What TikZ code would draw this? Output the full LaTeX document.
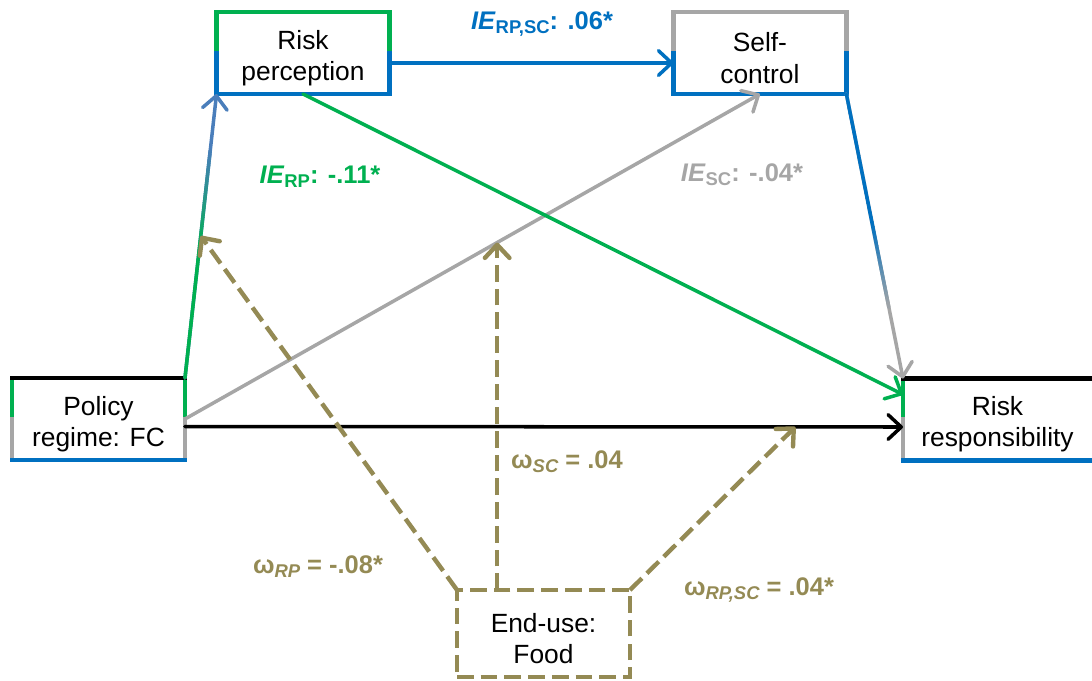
\documentclass[tikz,border=0pt]{standalone}
\usepackage{fontspec}
\setmainfont{Liberation Sans}
\usetikzlibrary{arrows.meta,positioning,calc}
\definecolor{rpgreen}{HTML}{00B050}
\definecolor{scblue}{HTML}{0070C0}
\definecolor{steelblue}{HTML}{4A7EBB}
\definecolor{midgray}{HTML}{A6A6A6}
\definecolor{olive}{HTML}{948A54}
\newcommand{\sbs}[1]{\raisebox{-0.35ex}{\fontsize{10.5}{10.5}\selectfont #1}}
\newcommand{\lift}{\rule{0pt}{16.5pt}}
% node, top, upper sides, lower sides, bottom
\newcommand{\boxrim}[5]{%
  \draw[rim,#3] (#1.north west) -- (#1.west);
  \draw[rim,#3] (#1.north east) -- (#1.east);
  \draw[rim,#4] (#1.west) -- (#1.south west);
  \draw[rim,#4] (#1.east) -- (#1.south east);
  \draw[rim,#2] (#1.north west) -- (#1.north east);
  \draw[rim,#5] (#1.south west) -- (#1.south east);}
\tikzset{
  varbox/.style={rectangle, align=center, minimum width=3.46cm, minimum height=1.64cm, inner sep=0pt, outer sep=0pt, font=\fontsize{15}{17.8}\selectfont},
  modbox/.style={varbox, draw=olive, line width=2.5pt, dash pattern=on 9.5pt off 4pt, minimum height=1.74cm},
  rim/.style={line width=2.6pt, line cap=rect},
  patharrow/.style={-{Straight Barb[length=7.5pt,width=14pt,round]}, line width=2pt, line cap=round},
  modarrow/.style={patharrow, olive, line width=2.5pt, dash pattern=on 9.5pt off 4pt, line cap=butt},
  coef/.style={anchor=base, font=\fontsize{14.5}{16}\selectfont\bfseries}
}

\begin{document}
\begin{tikzpicture}[x=0.02cm, y=-0.02cm]
\useasboundingbox (0,0) rectangle (1092,680);
\node[varbox] (policy) at (98.5,419) {\lift Policy\\regime: FC};
\node[varbox] (riskperc) at (303,53) {\lift Risk\\perception};
\node[varbox, right=5.68cm of riskperc] (selfctl) {\lift Self-\\control};
\node[varbox, minimum width=3.78cm] (riskresp) at (997.5,419.5) {\lift Risk\\responsibility};
\node[modbox] (enduse) at (543.5,633.5) {\lift End-use:\\Food};
\boxrim{policy}{black}{rpgreen}{midgray}{scblue}
\boxrim{riskperc}{rpgreen}{rpgreen}{scblue}{scblue}
\boxrim{selfctl}{midgray}{midgray}{scblue}{scblue}
\draw[rim,rpgreen] (riskresp.north west) -- (riskresp.west);
\draw[rim,midgray] (riskresp.west) -- (riskresp.south west);
\draw[rim,black] (riskresp.north west) -- (riskresp.north east);
\draw[rim,scblue] (riskresp.south west) -- (riskresp.south east);
% paths
\draw[patharrow, black] ([yshift=-0.15cm]policy.east) -- ([yshift=-0.15cm]riskresp.west);
\draw[patharrow, midgray] (policy.east) -- (selfctl.south);
\draw[patharrow, scblue] ([yshift=-0.2cm]riskperc.east) -- ([yshift=-0.2cm]riskperc.east -| selfctl.west);
\draw[patharrow, rpgreen] (riskperc.south) -- ([yshift=0.5cm]riskresp.west);
\draw[patharrow, steelblue] (policy.north east) -- (riskperc.south west);
\foreach \i in {0,...,47} {
  \pgfmathsetmacro\mix{min(100,max(0,(\i/60-0.45)*100/0.35))}
  \draw[line width=2pt, line cap=round, steelblue!\mix!rpgreen] ($(policy.north east)!\i/60!(riskperc.south west)$) -- ($(policy.north east)!{(\i+1)/60}!(riskperc.south west)$);
}
\draw[patharrow, midgray] (selfctl.south east) -- (riskresp.north west);
\foreach \i in {0,...,44} {
  \pgfmathsetmacro\mix{min(100,max(0,(\i/60-0.45)*100/0.3))}
  \draw[line width=2pt, line cap=round, midgray!\mix!scblue] ($(selfctl.south east)!\i/60!(riskresp.north west)$) -- ($(selfctl.south east)!{(\i+1)/60}!(riskresp.north west)$);
}
% moderation
\coordinate (onrp) at ($(policy.north east)!0.5!(riskperc.south west)$);
\coordinate (onsc) at ($(policy.east)!0.543!(selfctl.south)$);
\coordinate (ondir) at ($([yshift=-0.15cm]policy.east)!0.85!([yshift=-0.15cm]riskresp.west)$);
\draw[modarrow] (enduse.north west) -- (onrp);
\draw[modarrow] (onsc |- enduse.north) -- (onsc);
\draw[modarrow] (enduse.north east) -- (ondir);
% labels
\node[coef, scblue] (iersc) at (542,29) {\textit{IE}\sbs{RP,SC}: .06*};
\node[coef, rpgreen] (ierp) at (320,183) {\textit{IE}\sbs{RP}: -.11*};
\node[coef, midgray] (iesc) at (742,181) {\textit{IE}\sbs{SC}: -.04*};
\node[coef, olive] (omsc) at (567,468) {ω\sbs{\itshape SC} = .04};
\node[coef, olive] (omrp) at (318,573) {ω\sbs{\itshape RP} = -.08*};
\node[coef, olive] (omrpsc) at (759,595) {ω\sbs{\itshape RP,SC} = .04*};
\end{tikzpicture}
\end{document}
